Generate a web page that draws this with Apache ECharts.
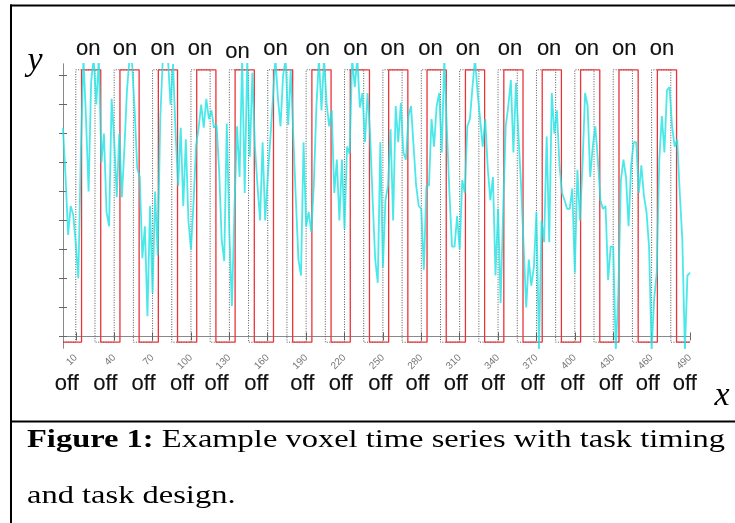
<!DOCTYPE html>
<html>
<head>
<meta charset="utf-8">
<script src="https://cdn.jsdelivr.net/npm/echarts@6/dist/echarts.min.js"></script>
<style>
html, body { margin: 0; padding: 0; background: #fff; }
#chart { width: 735px; height: 523px; }
</style>
</head>
<body>
<div id="chart"></div>
<script>
// tick positions of the time axis
var xTicks = [10, 40, 70, 100, 130, 160, 190, 220, 250, 280, 310, 340, 370, 400, 430, 460, 490];
var yTicks = [0, 1, 2, 3, 4, 5, 6, 7, 8, 9];

// task design: block onsets, length and the delayed (red) copy
var blockOnsets = [10, 40, 70, 100, 130, 160, 190, 220, 250, 280, 310, 340, 370, 400, 430, 460];
var blockLength = 15;
var responseDelay = 4.5;
var designLow = -0.2;
var designHigh = 9.2;

// "on" / "off" annotations
var onLabelX = [19.7, 48.4, 77.9, 107, 136.3, 166.1, 199, 228.5, 257.7, 287.2, 316.5, 349.3, 379.9, 409.4, 438.6, 468.1];
var onLabelY = [9.93, 9.93, 9.93, 9.93, 9.8, 9.93, 9.93, 9.93, 9.93, 9.93, 9.93, 9.93, 9.93, 9.93, 9.93, 9.93];
var offLabelX = [3, 33, 63, 93, 120, 151, 187, 217, 248, 277, 307, 336, 367, 398, 428, 457, 486];
var offLabelY = -1.65;

// voxel time series, one value every 2 time units
var signalStep = 2;
var signal = [
    7.2, 5.5, 3.5, 4.5, 4.2, 3.2, 2.0, 6.5, 9.6, 7.5, 5.0, 8.8, 9.6, 8.0, 9.6, 6.0,
    7.0, 4.3, 3.8, 8.2, 6.8, 4.8, 7.0, 4.8, 6.5, 8.5, 9.6, 9.4, 7.8, 5.8, 5.5, 2.7,
    3.8, 0.7, 4.5, 1.5, 5.0, 2.8, 7.5, 9.6, 9.6, 9.6, 8.0, 9.4, 7.0, 5.2, 7.2, 4.5,
    6.8, 4.0, 3.0, 4.6, 6.6, 7.2, 8.0, 7.2, 8.2, 7.5, 7.8, 7.2, 7.3,
    5.75, 3.35, 2.6, 7.35, 3.6, 1.05, 4.4, 7.25, 5.5, 9.6, 4.95, 9.6, 6.2, 9.1, 6.55,
    5.2, 4.0, 6.7, 4.0, 5.5, 6.8, 8.2, 9.6, 8.2, 7.25, 9.0, 9.6, 7.3, 9.2, 6.9,
    4.7, 2.65, 2.1, 6.7, 3.8, 4.3, 3.6, 5.2, 7.9, 9.6, 7.8, 9.6, 8.05, 7.25, 7.8,
    4.95, 6.1, 4.0, 6.1, 3.7, 6.55, 6.3, 9.6, 8.6, 9.6, 7.9, 8.4, 6.7, 8.4, 7.0,
    4.7, 2.65, 1.85, 6.7, 2.4, 4.7, 5.2, 7.15, 4.0, 7.95, 6.7, 8.05, 6.35, 6.1, 7.6,
    7.95, 6.55, 5.2, 4.5, 4.4, 2.3, 5.2, 5.2, 7.5, 6.55, 7.95, 8.4, 6.35, 9.6, 7.15,
    4.95, 3.1, 3.1, 4.15, 3.0, 5.4, 4.95, 7.25, 7.5, 8.6, 9.6, 8.4, 7.5, 6.55, 7.5,
    5.75, 4.7, 5.5, 2.1, 4.4, 1.15, 4.4, 7.25, 7.95, 8.85, 6.35, 8.75, 6.9, 5.2, 3.1,
    1.0, 2.65, 1.75, 2.4, 4.3, -0.5, 4.0, 3.25, 6.9, 3.25, 8.4, 7.0, 7.8, 5.9, 4.95,
    4.7, 4.4, 4.4, 5.1, 2.2, 5.75, 4.0, 5.9, 8.4, 7.95, 5.5, 6.55, 7.25, 6.1, 4.7,
    4.4, 4.5, 1.95, 3.1, 3.1, -0.5, 1.5, 5.4, 6.1, 5.5, 3.8, 5.9, 6.7, 6.7, 4.95,
    5.9, 4.85, 4.3, 3.1, -0.5, 1.3, 2.2, 6.1, 7.6, 6.35, 8.5, 8.6, 7.25, 6.55, 6.8,
    4.95, 3.35, -0.5, 2.1, 2.2
];

function boxcar(shift) {
    var pts = [[0, designLow]];
    blockOnsets.forEach(function (t) {
        var a = t + shift, b = t + shift + blockLength;
        pts.push([a, designLow], [a, designHigh], [b, designHigh], [b, designLow]);
    });
    pts.push([490, designLow]);
    return pts;
}

var signalData = signal.map(function (v, i) { return [i * signalStep, v]; });
var onData = onLabelX.map(function (x, i) { return [x, onLabelY[i]]; });
var offData = offLabelX.map(function (x) { return [x, offLabelY]; });

var chart = echarts.init(document.getElementById('chart'));

function xAxisDef(pos, labels) {
    return {
        type: 'value', position: pos, min: 0, max: 490,
        axisLine: { show: true, lineStyle: { color: '#8a8a8a', width: 1 } },
        axisTick: { show: true, inside: true, length: 4, customValues: xTicks, lineStyle: { color: '#666' } },
        axisLabel: {
            show: labels, customValues: xTicks, rotate: 45, margin: 8,
            fontSize: 10, color: '#777', fontFamily: 'Liberation Sans'
        },
        splitLine: { show: false }
    };
}
function yAxisDef(pos) {
    return {
        type: 'value', position: pos, min: -0.4, max: 9.4,
        axisLine: { show: true, lineStyle: { color: '#8a8a8a', width: 1 } },
        axisTick: { show: true, inside: true, length: 4, customValues: yTicks, lineStyle: { color: '#666' } },
        axisLabel: { show: false },
        splitLine: { show: false }
    };
}

var labelFont = {
    show: true, position: 'inside', fontSize: 22, color: '#111', opacity: 1,
    textBorderColor: '#111', textBorderWidth: 0.15, fontFamily: 'Liberation Sans'
};

var option = {
    animation: false,
    backgroundColor: '#fff',
    grid: { left: 63, top: 64, width: 627, height: 284 },
    xAxis: [xAxisDef('bottom', true), xAxisDef('top', false)],
    yAxis: [yAxisDef('left'), yAxisDef('right')],
    series: [
        {
            type: 'line', data: boxcar(0), symbol: 'none', silent: true,
            lineStyle: { color: '#555', width: 1, type: [1, 1.5] }
        },
        {
            type: 'line', data: boxcar(responseDelay), symbol: 'none', silent: true,
            lineStyle: { color: '#e8343a', width: 1.3 }
        },
        {
            type: 'line', data: signalData, symbol: 'none', silent: true,
            lineStyle: { color: 'rgba(30,226,228,0.8)', width: 1.8 }
        },
        {
            type: 'scatter', data: onData, clip: false, symbolSize: 0, silent: true,
            itemStyle: { color: '#111', opacity: 1 },
            label: Object.assign({ formatter: 'on' }, labelFont)
        },
        {
            type: 'scatter', data: offData, clip: false, symbolSize: 0, silent: true,
            itemStyle: { color: '#111', opacity: 1 },
            label: Object.assign({ formatter: 'off' }, labelFont)
        }
    ],
    graphic: [
        { type: 'line', shape: { x1: 10, y1: 5.5, x2: 735, y2: 5.5 }, style: { stroke: '#000', lineWidth: 2 } },
        { type: 'line', shape: { x1: 11, y1: 4.5, x2: 11, y2: 523 }, style: { stroke: '#000', lineWidth: 2 } },
        { type: 'line', shape: { x1: 10, y1: 421.5, x2: 735, y2: 421.5 }, style: { stroke: '#000', lineWidth: 2 } },
        {
            type: 'text', x: 35, y: 61,
            style: { text: 'y', font: 'italic 34px "Liberation Serif"', fill: '#000', align: 'center', verticalAlign: 'middle' }
        },
        {
            type: 'text', x: 722, y: 396,
            style: { text: 'x', font: 'italic 34px "Liberation Serif"', fill: '#000', align: 'center', verticalAlign: 'middle' }
        },
        {
            type: 'text', x: 27, y: 412, scaleX: 1.25,
            style: {
                text: '{b|Figure 1:} Example voxel time series with task timing\nand task design.',
                font: '26px "Liberation Serif"', fill: '#000', lineHeight: 56,
                align: 'left', verticalAlign: 'top',
                rich: { b: { fontWeight: 'bold', fontSize: 26, fontFamily: 'Liberation Serif', lineHeight: 56 } }
            }
        }
    ]
};

chart.setOption(option);
</script>
</body>
</html>
